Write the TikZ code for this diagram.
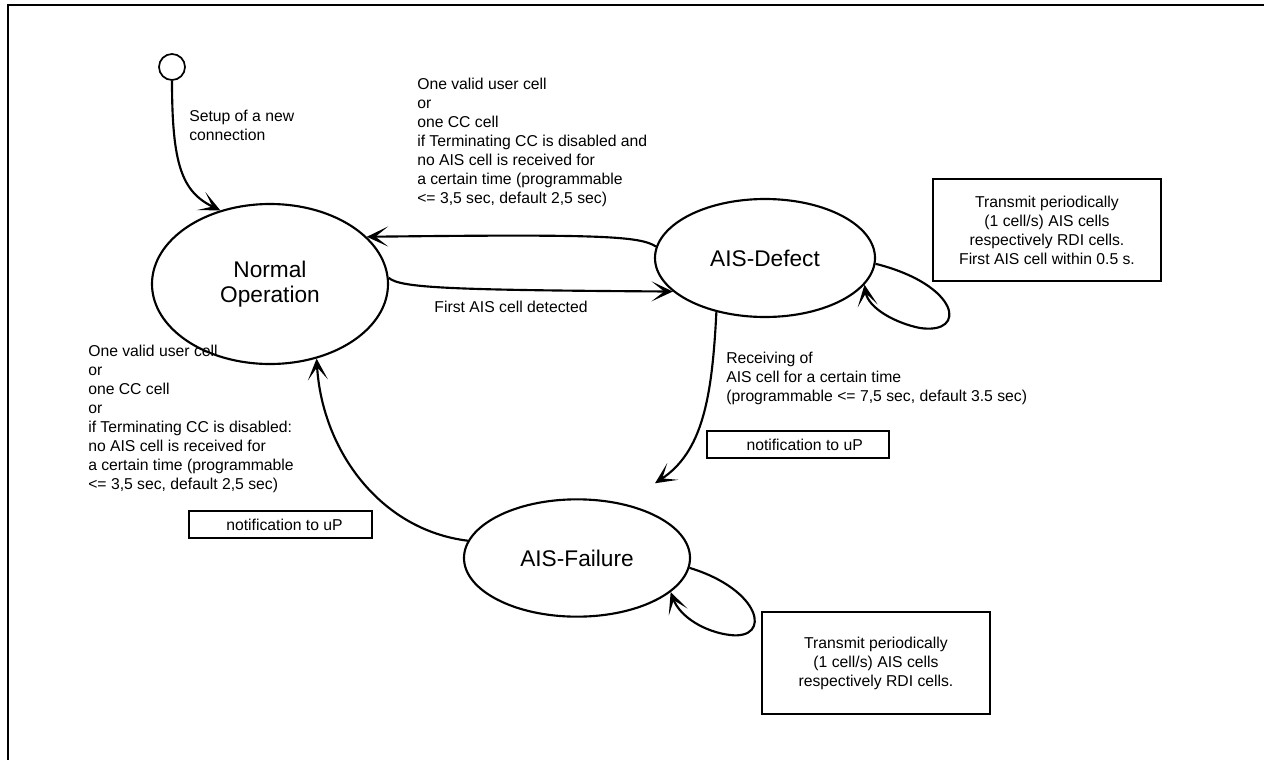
\documentclass[tikz,border=0pt]{standalone}
\usepackage{fontspec}
\setmainfont{Liberation Sans}
\usepackage{tikz}
\usetikzlibrary{shapes.geometric, arrows.meta, positioning, calc}

\begin{document}
\begin{tikzpicture}[x=0.75pt, y=-0.75pt,
  stateell/.style={draw, ellipse, line width=1.6pt, inner sep=0pt, align=center, font=\fontsize{17}{18.75}\selectfont},
  trans/.style={-{Stealth[length=16pt, width=15pt, inset=9.5pt]}, line width=1.6pt},
  txt/.style={anchor=north west, inner sep=0pt, align=left, font=\fontsize{11.8}{14.25}\selectfont},
  actbox/.style={draw, line width=1.5pt, minimum width=171pt, minimum height=76.5pt, inner sep=0pt, align=center, font=\fontsize{11.8}{14.25}\selectfont},
  notebox/.style={draw, line width=1.5pt, minimum width=137pt, minimum height=20.25pt, inner sep=0pt, font=\fontsize{11.8}{14.25}\selectfont}]
  \useasboundingbox (0,0) rectangle (1264,760);

  % Frame
  \draw[line width=1.7pt] (8,760) -- (8,5) -- (1264,5);

  % States
  \node[draw, circle, line width=1.3pt, minimum size=19.5pt, inner sep=0pt] (start) at (172,67) {};
  \node[stateell, minimum width=177pt, minimum height=120pt] (normal) at (270,284) {Normal\\Operation};
  \node[stateell, minimum width=165pt, minimum height=88.5pt] (defect) at (765,258) {AIS-Defect};
  \node[stateell, minimum width=169.5pt, minimum height=88pt] (failure) at (577,558) {AIS-Failure};
  \coordinate (failin) at ($(failure.north)+(78,-15)$);

  % Transitions
  \draw[trans] (start.south) .. controls (172,165) and (182,192) .. (normal.124);
  \draw[trans] (defect.174) .. controls (640,236) and (600,234) .. (normal.26);
  \draw[trans] (normal.3) .. controls (400,288) and (450,290) .. (defect.200);
  \draw[trans] (defect.-132) .. controls (712,400) and (702,452) .. (failin);
  \draw[trans] (failure.171) .. controls (380,530) and (322,450) .. (normal.-58);

  % Self loops
  \draw[trans] (defect.-3) .. controls (960,285) and (968,335) .. (920,328) .. controls (895,323) and (868,308) .. (defect.-15);
  \draw[trans] (failure.-5) .. controls (762,590) and (772,640) .. (730,635) .. controls (705,632) and (680,617) .. (failure.-20);

  % Labels
  \node[txt] (lblsetup) at (189,110) {Setup of a new\\connection};
  \node[txt] (lblback) at (417,78) {One valid user cell\\or\\one CC cell\\if Terminating CC is disabled and\\no AIS cell is received for\\a certain time (programmable\\<= 3,5 sec, default 2,5 sec)};
  \node[font=\fontsize{11.8}{14.25}\selectfont, inner sep=0pt] (lblfirst) at (511,307) {First AIS cell detected};
  \node[txt] (lblrecv) at (726,352) {Receiving of\\AIS cell for a certain time\\(programmable <= 7,5 sec, default 3.5 sec)};
  \node[txt] (lblleft) at (88,345) {One valid user cell\\or\\one CC cell\\or\\if Terminating CC is disabled:\\no AIS cell is received for\\a certain time (programmable\\<= 3,5 sec, default 2,5 sec)};

  % Actions
  \node[actbox] (actdefect) at (1047,230) {Transmit periodically\\(1 cell/s) AIS cells\\respectively RDI cells.\\First AIS cell within 0.5 s.};
  \node[actbox] (actfailure) at (876,663) {Transmit periodically\\(1 cell/s) AIS cells\\respectively RDI cells.};
  \node[notebox] (notedefect) at (798,444.5) {\hspace{10pt}notification to uP};
  \node[notebox] (notefailure) at (280.5,524.5) {\hspace{6pt}notification to uP};
\end{tikzpicture}
\end{document}
